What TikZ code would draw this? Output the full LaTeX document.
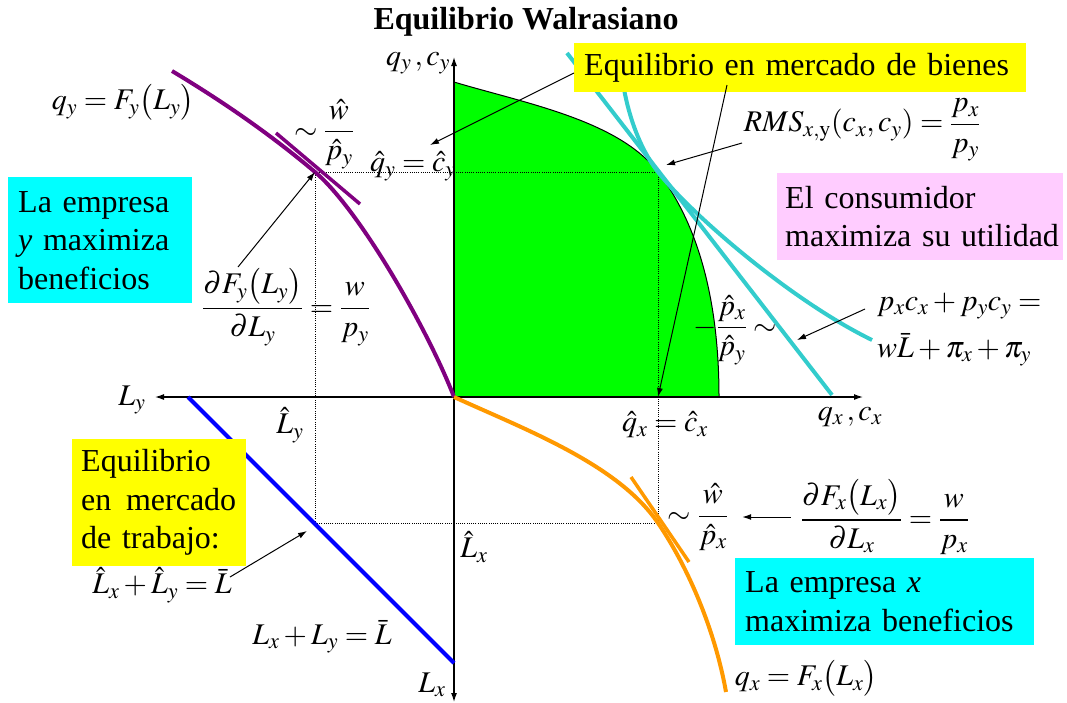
\documentclass[tikz,border=0pt]{standalone}
\usepackage{amsmath}
\usepackage{mathptmx}
\usepackage[no-math]{fontspec}
\setmainfont{Liberation Serif}
\usetikzlibrary{arrows.meta,calc}
\definecolor{grn}{HTML}{00FF00}
\definecolor{purp}{HTML}{800080}
\definecolor{orng}{HTML}{FF9900}
\definecolor{cyl}{HTML}{33CCCC}
\definecolor{blu}{HTML}{0000FF}
\definecolor{cybox}{HTML}{00FFFF}
\definecolor{yel}{HTML}{FFFF00}
\definecolor{pnk}{HTML}{FFCCFF}
\begin{document}
\begin{tikzpicture}[x=1pt,y=-1pt,
  txt/.style={font=\fontsize{32}{38}\selectfont, inner sep=0pt},
  mth/.style={font=\fontsize{30}{36}\selectfont, inner sep=0pt},
  boxn/.style={font=\fontsize{32}{38.5}\selectfont, anchor=north west, align=left, inner ysep=0pt},
  arr/.style={-{Latex[length=9pt,width=6pt]}, line width=1pt},
  axisl/.style={line width=1.2pt, {Latex[length=9pt,width=6pt]}-{Latex[length=9pt,width=6pt]}},
  crv/.style={line width=4pt},
  tng/.style={line width=3.5pt},
  dots/.style={line width=0.8pt, dash pattern=on 1pt off 1.2pt}
]
\useasboundingbox (0,0) rectangle (1067,702);

% key points
\coordinate (O) at (454,397);
\coordinate (Ty) at (315,172);
\coordinate (Tc) at (658,172);
\coordinate (Tx) at (658,523);
\coordinate (Tl) at (315,523);
\coordinate (Qx) at (658,397);

% production possibilities region
\fill[grn] (454,82) .. controls (524,103) and (618,120) .. (Tc) .. controls (698,224) and (719,300) .. (719,397) -- (O) -- cycle;
\draw[line width=1pt] (454,82) .. controls (524,103) and (618,120) .. (Tc) .. controls (698,224) and (719,300) .. (719,397);

% dotted guides
\draw[dots] (Ty) -- (Tc) -- (Tx) -- (Tl) -- cycle;

% axes
\coordinate (xl) at (155,397);
\coordinate (xr) at (863,397);
\coordinate (yt) at (454,57);
\coordinate (yb) at (454,702);
\draw[axisl] (xl) -- (xr);
\draw[axisl] (yt) -- (yb);

% curves
\draw[crv, purp] (172,71) .. controls (222,101) and (270,134) .. (Ty) .. controls (360,210) and (429,332) .. (O);
\draw[tng, purp] (276,133) -- (360,204);
\draw[crv, orng] (O) .. controls (524,429) and (618,464) .. (Tx) .. controls (688,567) and (715,630) .. (726,692);
\draw[tng, orng] (631,477) -- (689,562);
\draw[crv, blu] (188,397) -- (454,663);
\draw[crv, cyl] (567,53) -- (832,395);
\draw[crv, cyl] (620,52) .. controls (621,90) and (633,140) .. (Tc) .. controls (690,213) and (790,300) .. (872,340);

% title
\node[txt, font=\fontsize{32}{38}\selectfont\bfseries] (title) at (526,21.5) {Equilibrio Walrasiano};

% boxes
\node[boxn, fill=cybox, inner xsep=10pt, text width=164pt, minimum height=126pt] (bx1) at (8,177) {La empresa\\\textit{y} maximiza\\beneficios};
\node[boxn, fill=yel, inner xsep=10pt, text width=432pt, minimum height=49pt] (bienes) at (574,43) {Equilibrio en mercado de bienes};
\node[boxn, fill=pnk, inner xsep=8pt, text width=270pt, minimum height=87pt] (cons) at (777,173) {El consumidor\\\mbox{maximiza su utilidad}};
\node[boxn, fill=yel, inner xsep=9pt, text width=156pt, minimum height=127pt] (trab) at (72,439) {Equilibrio\\en\hspace{4pt} mercado\\de trabajo:};
\node[boxn, fill=cybox, inner xsep=10pt, text width=279pt, minimum height=87pt] (bx2) at (735,558) {La empresa \textit{x}\\\mbox{maximiza beneficios}};

% math labels
\node[mth] (qycy) at (418,63) {$q_y\,,c_y$};
\node[mth] (Fy) at (123,102) {$q_y=F_y\bigl(L_y\bigr)$};
\node[mth] (wpy) at (324,134) {$\sim\dfrac{\hat w}{\hat p_y}$};
\node[mth] (qhy) at (413,166) {$\hat q_y=\hat c_y$};
\node[mth] (dFy) at (286,307) {$\dfrac{\partial F_y\bigl(L_y\bigr)}{\partial L_y}=\dfrac{w}{p_y}$};
\node[mth] (rms) at (862,130) {$RMS_{x,\mathrm{y}}(c_x,c_y)=\dfrac{p_x}{p_y}$};
\node[mth] (pxpy) at (735,330) {$-\dfrac{\hat p_x}{\hat p_y}\sim$};
\node[mth, anchor=base west] (bud1) at (877,310) {$p_xc_x+p_yc_y=$};
\node[mth, anchor=base west] (bud2) at (877,357) {$w\bar L+\pi_x+\pi_y$};
\node[mth] (Ly) at (132,400) {$L_y$};
\node[mth] (Lhy) at (290,425) {$\hat L_y$};
\node[mth] (Lsum) at (162,585) {$\hat L_x+\hat L_y=\bar L$};
\node[mth] (Lres) at (322,637) {$L_x+L_y=\bar L$};
\node[mth] (Lx) at (432,685) {$L_x$};
\node[mth] (qhx) at (665,425) {$\hat q_x=\hat c_x$};
\node[mth] (qxcx) at (850,417) {$q_x\,,c_x$};
\node[mth] (Lhx) at (474,547) {$\hat L_x$};
\node[mth] (wpx) at (698,517) {$\sim\dfrac{\hat w}{\hat p_x}$};
\node[mth] (dFx) at (885,517) {$\dfrac{\partial F_x\bigl(L_x\bigr)}{\partial L_x}=\dfrac{w}{p_x}$};
\node[mth] (Fx) at (806,678) {$q_x=F_x\bigl(L_x\bigr)$};

% connectors
\coordinate (a1s) at (238,267);
\draw[arr] (a1s) -- (Ty);
\coordinate (a2s) at (574,73);
\coordinate (a2e) at (430,145);
\draw[arr] (a2s) -- (a2e);
\coordinate (a3s) at (727,85);
\draw[arr] (a3s) -- (Qx);
\coordinate (a4s) at (742,143);
\coordinate (a4e) at (666,165);
\draw[arr] (a4s) -- (a4e);
\coordinate (a5s) at (865,309);
\coordinate (a5e) at (797,340);
\draw[arr] (a5s) -- (a5e);
\coordinate (a6s) at (230,577);
\coordinate (a6e) at (307,531);
\draw[arr] (a6s) -- (a6e);
\draw[arr, shorten <=10pt, shorten >=14pt] (dFx.west) -- (wpx.east);
\end{tikzpicture}
\end{document}
